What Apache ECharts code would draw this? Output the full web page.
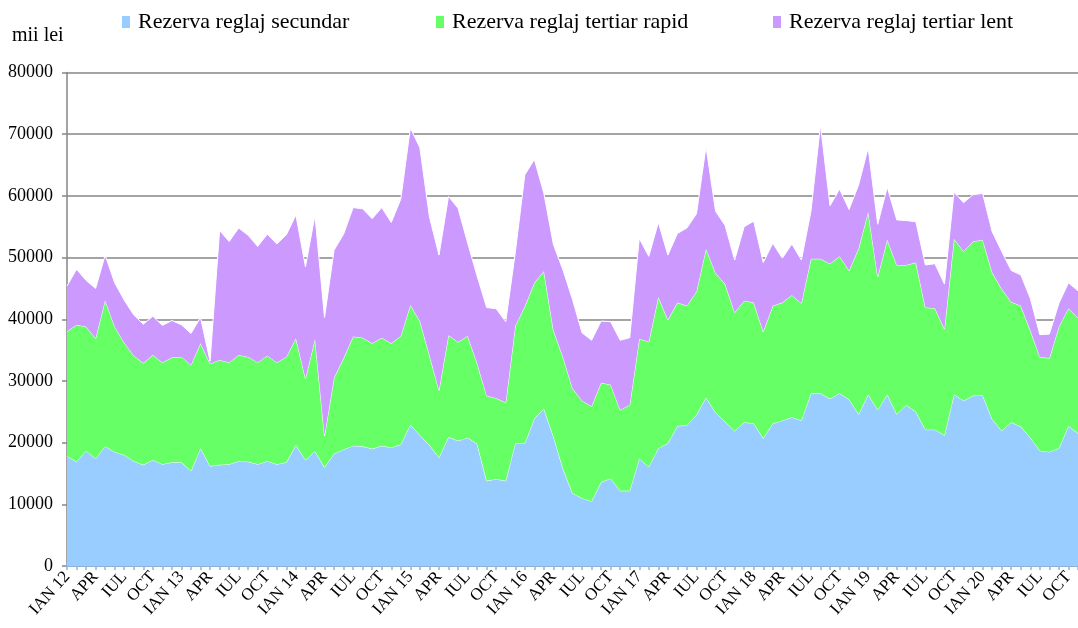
<!DOCTYPE html>
<html>
<head>
<meta charset="utf-8">
<script src="https://cdn.jsdelivr.net/npm/echarts@6/dist/echarts.min.js"></script>
<style>
  html, body { margin: 0; padding: 0; background: #fff; }
  #chart { width: 1078px; height: 628px; }
</style>
</head>
<body>
<div id="chart"></div>
<script>
// Monthly reserve costs, January 2012 – November 2020 (mii lei)
const monthNames = ['IAN', 'FEB', 'MAR', 'APR', 'MAI', 'IUN', 'IUL', 'AUG', 'SEP', 'OCT', 'NOI', 'DEC'];
const startYear = 2012;
const monthCount = 107;

const seriesNames = ['Rezerva reglaj secundar', 'Rezerva reglaj tertiar rapid', 'Rezerva reglaj tertiar lent'];
const seriesColors = ['#99CCFF', '#66FF66', '#CC99FF'];

const secundar = [
  17800, 16900, 18700, 17400, 19400, 18500, 18000, 17000, 16400, 17200, 16500, 16800,
  16800, 15400, 19100, 16200, 16400, 16500, 17000, 16900, 16500, 17000, 16500, 16800,
  19600, 17200, 18600, 16000, 18200, 18900, 19500, 19400, 19000, 19500, 19200, 19700,
  22900, 21200, 19600, 17600, 20900, 20300, 20800, 19800, 13800, 14100, 13800, 19900,
  19900, 23900, 25500, 21000, 15800, 11800, 11000, 10500, 13600, 14200, 12200, 12200,
  17400, 16100, 19100, 19900, 22700, 22800, 24500, 27300, 24900, 23400, 21900, 23300,
  23100, 20700, 23100, 23600, 24100, 23600, 28000, 28000, 27100, 28000, 27000, 24600,
  27800, 25300, 27800, 24600, 26100, 25000, 22100, 22100, 21200, 27800, 26800, 27600,
  27700, 23800, 21900, 23300, 22600, 20800, 18700, 18500, 19100, 22700, 21500
];
const tertiarRapid = [
  20200, 22200, 20100, 19500, 23700, 20300, 18200, 17100, 16500, 17000, 16500, 17000,
  17100, 17200, 17000, 16600, 17000, 16500, 17200, 17000, 16500, 17100, 16500, 17100,
  17300, 13200, 18200, 5100, 12300, 14800, 17700, 17600, 17100, 17500, 16900, 17600,
  19400, 18500, 14600, 10900, 16500, 16000, 16500, 13100, 13800, 13100, 12700, 19000,
  22200, 22000, 22300, 17200, 18100, 17000, 15800, 15400, 16100, 15200, 13100, 13900,
  19400, 20300, 24500, 20000, 20000, 19400, 20000, 24100, 22600, 22300, 19200, 19700,
  19600, 17300, 19100, 19100, 19800, 19000, 21800, 21800, 21900, 22200, 20900, 26900,
  29600, 21600, 25100, 24200, 22700, 24200, 19800, 19700, 17200, 25200, 24200, 25000,
  25200, 23800, 23000, 19500, 19600, 17400, 15200, 15200, 19700, 19100, 18700
];
const tertiarLent = [
  7400, 9000, 7500, 8100, 7300, 7100, 6900, 6600, 6300, 6300, 6000, 6000,
  5200, 5100, 4200, 400, 21000, 19600, 20600, 19700, 18800, 19700, 19200, 19800,
  20000, 18100, 20000, 19200, 20700, 20100, 20900, 20900, 20200, 21100, 19600, 22200,
  28700, 28100, 22400, 21900, 22500, 21700, 15100, 14100, 14300, 14500, 13100, 11900,
  21300, 20000, 12600, 13900, 14100, 14400, 11000, 10700, 10000, 10200, 11300, 10900,
  16300, 13800, 12100, 10500, 11200, 12600, 12600, 16600, 10000, 9500, 8500, 12000,
  13200, 11200, 10100, 7200, 8300, 7000, 7700, 21700, 9400, 10900, 9900, 10300,
  10400, 8500, 8500, 7300, 7200, 6600, 6900, 7200, 7300, 7600, 7900, 7600,
  7500, 6600, 6100, 5100, 5000, 5200, 3600, 3900, 3800, 4100, 4400
];
const seriesValues = [secundar, tertiarRapid, tertiarLent];

// Category keys "YYYY-MM"; the axis shows every third month
const categories = [];
for (let i = 0; i < monthCount; i++) {
  const y = startYear + Math.floor(i / 12);
  const m = i % 12;
  categories.push(y + '-' + String(m + 1).padStart(2, '0'));
}
function tickLabel(cat) {
  const y = cat.slice(2, 4);
  const m = parseInt(cat.slice(5, 7), 10) - 1;
  return m === 0 ? monthNames[m] + ' ' + y : monthNames[m];
}

const FONT = 'Liberation Serif';
const chart = echarts.init(document.getElementById('chart'), null, { renderer: 'canvas' });

const legendLefts = [122, 436, 773];
const legends = seriesNames.map((name, i) => ({
  data: [name],
  left: legendLefts[i],
  top: 11,
  padding: 0,
  icon: 'rect',
  itemWidth: 8,
  itemHeight: 12,
  itemGap: 0,
  textStyle: { fontFamily: FONT, fontSize: 22, color: '#000', padding: [0, 0, 0, 3] }
}));

chart.setOption({
  animation: false,
  backgroundColor: '#fff',
  legend: legends,
  graphic: [{
    type: 'text',
    left: 12,
    top: 26,
    style: { text: 'mii lei', fontFamily: FONT, fontSize: 20, fill: '#000' }
  }],
  grid: { left: 67, right: -5, top: 72.5, bottom: 62, containLabel: false },
  xAxis: [{
    type: 'category',
    data: categories,
    boundaryGap: false,
    axisLine: { lineStyle: { color: '#8DB4E2', width: 1.5 } },
    axisTick: { show: true, interval: 0, length: 4, lineStyle: { color: '#8DB4E2', width: 1.5 } },
    axisLabel: {
      interval: 2,
      rotate: 48,
      margin: 8,
      fontFamily: FONT,
      fontSize: 17,
      color: '#000',
      formatter: tickLabel
    },
    splitLine: { show: false }
  }, {
    type: 'category',
    data: categories,
    boundaryGap: false,
    position: 'bottom',
    axisLine: { show: false },
    axisTick: { show: true, inside: true, interval: 0, length: 4, lineStyle: { color: '#8DB4E2', width: 1.5 } },
    axisLabel: { show: false },
    splitLine: { show: false }
  }],
  yAxis: {
    type: 'value',
    min: 0,
    max: 80000,
    interval: 10000,
    axisLine: { show: true, lineStyle: { color: '#868686', width: 1.5 } },
    axisTick: { show: true, length: 5, lineStyle: { color: '#868686', width: 1.5 } },
    axisLabel: {
      fontFamily: FONT,
      fontSize: 18,
      color: '#000',
      margin: 14,
      formatter: (v) => String(v)
    },
    splitLine: { show: true, lineStyle: { color: '#868686', width: 1.5 } }
  },
  series: seriesNames.map((name, i) => ({
    name: name,
    type: 'line',
    stack: 'total',
    data: seriesValues[i],
    symbol: 'none',
    color: seriesColors[i],
    lineStyle: { color: '#ffffff', width: 1 },
    areaStyle: { color: seriesColors[i], opacity: 1 },
    emphasis: { disabled: true },
    z: 2 + i
  }))
});
</script>
</body>
</html>
